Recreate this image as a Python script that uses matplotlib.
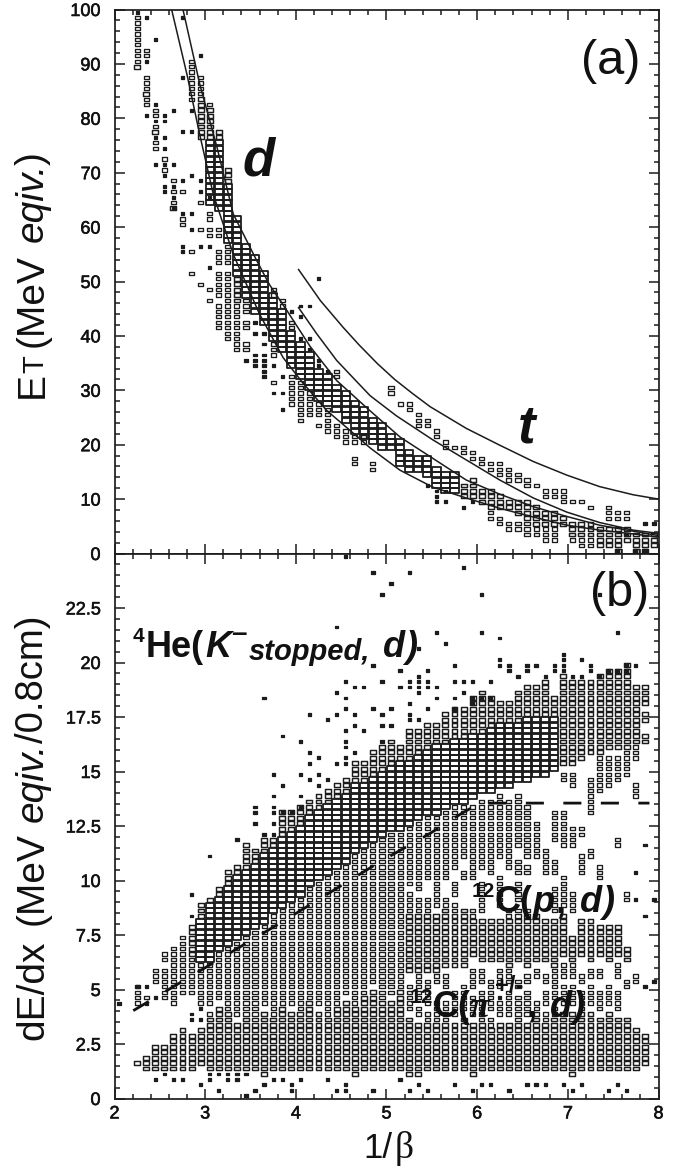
import numpy as np
from matplotlib import pyplot as plt
from matplotlib import patheffects
from matplotlib.collections import PatchCollection
from matplotlib.patches import Rectangle
from matplotlib.ticker import FixedLocator, FixedFormatter

# panel (a): runs of filled bins (column centre, lowest E bin, highest E bin)
a_big = [(3.05, 64, 75), (3.15, 63, 75), (3.25, 57, 67), (3.35, 51, 61), (3.45, 47, 56), (3.55, 44, 54),
         (3.65, 42, 51), (3.75, 39, 47), (3.85, 37, 44), (3.95, 34, 40), (4.05, 32, 38), (4.15, 30, 36),
         (4.25, 28, 33), (4.35, 27, 32), (4.45, 26, 30), (4.55, 24, 29), (4.65, 22, 27), (4.75, 21, 26),
         (4.85, 20, 24), (4.95, 19, 23), (5.05, 19, 21), (5.15, 16, 20), (5.25, 15, 18), (5.35, 15, 17),
         (5.45, 14, 17), (5.55, 12, 15), (5.65, 11, 14), (5.75, 11, 14)]
a_mid = [(2.25, 89, 89), (2.35, 84, 84), (2.45, 77, 77), (2.65, 63, 63), (2.95, 76, 83), (3.05, 76, 81),
         (3.15, 76, 77), (3.25, 68, 70), (3.35, 46, 50), (5.85, 10, 12), (5.95, 10, 13), (6.05, 9, 11),
         (6.15, 8, 11), (6.25, 8, 10), (6.35, 8, 9), (6.45, 7, 9), (6.55, 6, 9), (6.65, 5, 8), (6.75, 5, 7),
         (6.85, 5, 7), (6.95, 5, 6), (7.05, 3, 5), (7.15, 3, 5), (7.25, 3, 5), (7.35, 1, 4), (7.45, 1, 4),
         (7.55, 0, 4), (7.65, 2, 4), (7.75, 0, 3), (7.85, 0, 3), (7.95, 1, 3)]
a_small = [(2.25, 90, 98), (2.35, 91, 92), (2.35, 85, 87), (2.35, 82, 83), (2.45, 80, 81), (2.45, 78, 78),
           (2.45, 74, 75), (2.55, 72, 72), (2.55, 70, 70), (2.65, 68, 68), (2.65, 66, 66), (2.65, 64, 64),
           (2.75, 66, 66), (2.75, 60, 61), (2.85, 83, 90), (2.85, 55, 55), (2.85, 51, 51), (2.95, 84, 87),
           (2.95, 64, 64), (2.95, 59, 59), (2.95, 49, 49), (3.05, 82, 82), (3.05, 61, 62), (3.05, 58, 59),
           (3.05, 48, 48), (3.05, 46, 46), (3.15, 58, 59), (3.15, 53, 55), (3.15, 47, 51), (3.15, 41, 45),
           (3.25, 53, 56), (3.25, 39, 51), (3.35, 41, 45), (3.35, 37, 40), (3.45, 44, 46), (3.45, 41, 42),
           (3.45, 37, 38), (3.75, 47, 48), (3.75, 36, 38), (3.75, 31, 31), (3.85, 45, 46), (3.95, 41, 42),
           (3.95, 27, 32), (4.05, 24, 31), (4.15, 25, 29), (4.25, 25, 27), (4.25, 23, 23), (4.35, 22, 26),
           (4.45, 32, 33), (4.45, 21, 23), (4.55, 20, 22), (4.65, 20, 21), (4.65, 16, 17), (4.75, 20, 21),
           (4.85, 15, 16), (5.05, 29, 30), (5.15, 27, 27), (5.25, 26, 27), (5.35, 23, 25), (5.45, 23, 24),
           (5.55, 21, 22), (5.65, 19, 20), (5.75, 19, 19), (5.85, 18, 19), (5.95, 17, 18), (6.05, 16, 17),
           (6.15, 15, 16), (6.25, 14, 16), (6.35, 13, 15), (6.45, 13, 14), (6.55, 12, 13), (6.65, 12, 12),
           (6.75, 10, 11), (6.85, 10, 11), (6.95, 9, 11), (7.05, 9, 9), (7.15, 9, 9), (7.25, 8, 8),
           (7.45, 6, 8), (7.55, 6, 7), (7.65, 6, 7), (6.15, 6, 7), (6.25, 5, 6), (6.35, 4, 5), (6.45, 4, 5),
           (6.55, 3, 5), (6.65, 3, 4), (6.75, 2, 4), (6.85, 2, 4), (7.05, 2, 2), (7.15, 1, 2), (7.25, 1, 2)]
a_dot_x = [2.25, 2.35, 2.35, 2.35, 2.45, 2.45, 2.45, 2.45, 2.45, 2.55, 2.55, 2.55, 2.55, 2.55, 2.55, 2.55, 2.55,
           2.65, 2.65, 2.65, 2.65, 2.65, 2.75, 2.75, 2.75, 2.75, 2.75, 2.75, 2.75, 2.85, 2.85, 2.85, 2.85, 2.85,
           2.95, 2.95, 2.95, 2.95, 3.05, 3.05, 3.05, 3.45, 3.55, 3.55, 3.55, 3.55, 3.55, 3.65, 3.65, 3.65, 3.65,
           3.65, 3.65, 3.65, 3.75, 3.75, 3.85, 3.85, 3.85, 3.95, 4.05, 4.05, 4.05, 4.15, 4.15, 4.15, 4.25, 4.25,
           4.25, 4.35, 5.45, 5.55, 5.55, 5.55, 5.65, 5.65, 5.85, 5.95, 7.85, 7.95, 7.55, 7.75, 7.85, 7.65]
a_dot_y = [99, 98, 90, 80, 94, 82, 79, 76, 71, 80, 79, 76, 74, 71, 69, 67, 66,
           81, 71, 67, 65, 63, 98, 87, 77, 68, 62, 56, 55, 81, 77, 69, 62, 59,
           91, 68, 66, 56, 65, 56, 52, 35, 42, 40, 36, 35, 34, 40, 38, 36, 35,
           34, 33, 32, 34, 29, 32, 29, 26, 44, 45, 43, 39, 45, 39, 37, 50, 35,
           34, 33, 12, 11, 10, 9, 11, 9, 8, 9, 5, 5, 0, 0, 0, 3]

# curves of panel (a)
d_low_x = [2.63, 2.8, 2.94, 3.09, 3.31, 3.6, 3.86, 4.08, 4.34, 4.6, 4.82, 5.15, 5.51, 5.88, 6.25, 6.62, 6.99, 7.35, 7.72, 8.0]
d_low_y = [100, 88, 77, 66, 55, 44, 36, 31.3, 26.3, 22.6, 19.4, 15.3, 12.2, 10.2, 8.3, 6.7, 5.2, 4.3, 3.6, 3.0]
d_high_x = [2.755, 2.94, 3.13, 3.31, 3.57, 3.71, 3.9, 4.16, 4.45, 4.8, 5.15, 5.51, 5.88, 6.25, 6.62, 6.99, 7.35, 7.72, 8.0]
d_high_y = [100, 86.3, 74.7, 62.4, 53.8, 49.4, 44.7, 38, 31.8, 26.5, 21.4, 17.5, 13.5, 10.9, 8.6, 6.8, 5.2, 4.1, 3.3]
t_low_x = [4.03, 4.23, 4.45, 4.66, 4.82, 5.11, 5.51, 5.88, 6.25, 6.62, 6.99, 7.35, 7.72, 8.0]
t_low_y = [45.2, 40.4, 35.5, 31.8, 29, 25.3, 20.9, 17.2, 13.5, 10.2, 7.6, 5.7, 4.3, 3.7]
t_high_x = [4.03, 4.27, 4.52, 4.7, 4.9, 5.09, 5.28, 5.48, 5.88, 6.25, 6.62, 6.99, 7.35, 7.72, 8.0]
t_high_y = [52.2, 46.5, 41.6, 38.3, 34.9, 32.0, 29.5, 27.0, 23.0, 19.9, 16.9, 14.4, 12.3, 10.8, 10]

# panel (b): runs of filled bins (column centre, lowest bin edge, highest bin edge)
b_big = [(2.95, 6.25, 8.0), (3.05, 6.25, 8.75), (3.15, 6.75, 9.0), (3.25, 7.0, 9.5), (3.35, 7.25, 10.0),
         (3.45, 7.5, 10.25), (3.55, 7.75, 10.5), (3.65, 8.0, 11.0), (3.75, 8.5, 11.25), (3.85, 8.75, 11.75),
         (3.95, 9.0, 12.0), (4.05, 9.25, 12.25), (4.15, 9.75, 12.75), (4.25, 10.0, 13.0), (4.35, 10.25, 13.25),
         (4.45, 10.5, 13.5), (4.55, 10.75, 13.75), (4.65, 11.25, 14.25), (4.75, 11.5, 14.25), (4.85, 11.75, 14.5),
         (4.95, 12.0, 14.75), (5.05, 12.25, 15.0), (5.15, 12.25, 15.25), (5.25, 12.5, 15.25), (5.35, 12.75, 15.5),
         (5.45, 13.0, 15.75), (5.55, 13.0, 16.0), (5.65, 13.25, 16.0), (5.75, 13.5, 16.25), (5.85, 13.5, 16.25),
         (5.95, 13.75, 16.5), (6.05, 14.0, 16.5), (6.15, 14.0, 16.75), (6.25, 14.25, 17.0), (6.35, 14.25, 17.0),
         (6.45, 14.5, 17.0), (6.55, 14.5, 17.25), (6.65, 14.75, 17.25), (6.75, 14.75, 17.25), (6.85, 15.0, 17.25)]
b_top = [(2.85, 6.5, 7.75), (2.95, 8.25, 8.75), (3.05, 9.0, 9.0), (3.15, 9.25, 9.5), (3.25, 9.75, 10.25),
         (3.35, 10.25, 10.5), (3.45, 10.5, 11.5), (3.55, 10.75, 11.25), (3.65, 11.25, 11.75), (3.75, 11.5, 11.75),
         (3.85, 12.0, 13.0), (3.95, 12.25, 13.0), (4.05, 12.5, 13.25), (4.15, 13.0, 13.5), (4.25, 13.25, 13.75),
         (4.35, 13.5, 14.0), (4.45, 13.75, 14.25), (4.55, 14.0, 14.5), (4.65, 14.5, 15.25), (4.75, 14.5, 15.25),
         (4.85, 14.75, 15.75), (4.95, 15.0, 16.0), (5.05, 15.25, 16.25), (5.15, 15.5, 16.0), (5.25, 15.5, 16.75),
         (5.35, 15.75, 16.75), (5.45, 16.0, 17.0), (5.55, 16.25, 17.0), (5.65, 16.25, 17.5), (5.75, 16.5, 17.75),
         (5.85, 16.5, 17.75), (5.95, 16.75, 18.25), (6.05, 16.75, 18.5), (6.15, 17.0, 18.25), (6.25, 17.25, 18.0),
         (6.35, 17.25, 18.0), (6.45, 17.25, 18.5), (6.55, 17.5, 18.75), (6.65, 17.5, 18.75), (6.75, 17.5, 19.0),
         (6.85, 17.5, 18.25), (6.95, 15.25, 19.25), (7.05, 15.25, 19.0), (7.15, 15.5, 19.0), (7.25, 15.75, 19.0),
         (7.35, 15.75, 19.25), (7.45, 16.0, 19.5), (7.55, 16.0, 19.5), (7.65, 16.0, 19.75), (7.75, 16.25, 18.75),
         (7.85, 18.0, 18.75), (7.85, 17.25, 17.5), (7.85, 16.25, 16.5)]
b_lower = [(2.25, 4.25, 5.0), (2.35, 4.5, 4.5), (2.45, 5.25, 5.75), (2.55, 4.5, 5.75), (2.55, 6.25, 6.5),
           (2.65, 4.25, 6.75), (2.75, 4.75, 7.25), (2.85, 4.75, 6.25), (2.95, 4.25, 6.0), (3.05, 4.25, 6.0),
           (3.05, 3.75, 3.75), (3.15, 4.5, 6.5), (3.25, 4.0, 6.75), (3.35, 3.75, 7.0), (3.45, 3.75, 7.25),
           (3.55, 3.5, 7.5), (3.65, 4.25, 7.75), (3.75, 3.75, 8.25), (3.85, 4.25, 8.5), (3.95, 4.25, 8.75),
           (4.05, 4.0, 9.0), (4.15, 4.5, 9.5), (4.25, 4.25, 9.75), (4.35, 3.75, 10.0), (4.45, 4.25, 10.25),
           (4.55, 4.75, 10.5), (4.65, 4.25, 11.0), (4.75, 4.75, 11.25), (4.85, 5.25, 11.5), (4.95, 4.5, 11.75),
           (5.05, 4.75, 12.0), (5.15, 5.0, 12.0), (5.25, 9.75, 12.25), (5.25, 8.5, 9.25), (5.25, 4.0, 5.0),
           (5.35, 9.5, 12.5), (5.35, 8.5, 9.0), (5.35, 4.5, 5.0), (5.45, 10.0, 12.75), (5.45, 8.5, 9.0),
           (5.45, 4.25, 5.25), (5.55, 9.5, 12.75), (5.55, 8.75, 9.25), (5.55, 3.5, 4.25), (5.65, 10.0, 13.0),
           (5.65, 8.75, 9.0), (5.65, 5.0, 5.5), (5.65, 3.5, 4.25), (5.75, 10.5, 13.25), (5.75, 9.25, 9.75),
           (5.75, 8.5, 8.75), (5.85, 11.0, 13.25), (5.85, 10.0, 10.25), (5.85, 4.0, 5.0), (5.95, 10.0, 13.25),
           (5.95, 8.25, 8.5), (5.95, 5.0, 5.25), (6.05, 10.5, 13.5), (6.05, 9.25, 9.75), (6.05, 5.25, 5.75),
           (6.15, 10.25, 13.5), (6.15, 4.0, 5.25), (6.15, 3.25, 3.5), (6.25, 11.0, 13.75), (6.35, 10.5, 13.5),
           (6.35, 8.25, 8.5), (6.35, 5.25, 5.75), (6.45, 11.5, 13.75), (6.45, 10.25, 10.75), (6.45, 8.25, 8.5),
           (6.55, 11.0, 13.25), (6.55, 10.25, 10.5), (6.55, 8.25, 8.5), (6.55, 5.25, 5.5), (6.55, 3.75, 4.75),
           (6.65, 11.0, 12.5), (6.75, 10.25, 11.25), (6.75, 5.25, 5.5), (6.75, 4.25, 4.75), (6.85, 11.75, 13.0),
           (6.85, 10.25, 10.75), (6.85, 4.5, 5.75), (6.95, 11.5, 13.0), (6.95, 14.5, 14.75), (7.05, 11.5, 12.25),
           (7.05, 14.25, 14.75), (7.15, 12.0, 12.25), (7.15, 10.25, 11.0), (7.15, 5.25, 5.5), (7.25, 13.0, 14.5),
           (7.25, 11.0, 11.25), (7.35, 10.0, 10.5), (7.35, 5.5, 5.75), (7.35, 14.0, 15.5), (7.45, 14.25, 15.5),
           (7.55, 14.5, 15.5), (7.55, 11.5, 11.75), (7.65, 14.75, 15.75), (7.65, 9.0, 9.25), (7.65, 5.0, 5.25),
           (7.75, 15.5, 16.0), (7.75, 13.75, 14.25), (7.75, 5.25, 5.5),
           (5.35, 3.75, 4.0), (5.45, 3.5, 3.75), (5.75, 3.75, 4.75), (5.95, 3.75, 4.5), (6.05, 3.5, 4.75),
           (6.25, 3.75, 4.25), (6.35, 3.75, 4.75), (6.45, 3.5, 4.5), (6.65, 3.75, 4.25), (6.75, 3.5, 3.75),
           (6.85, 3.75, 4.0), (6.95, 4.25, 5.0), (7.05, 4.25, 5.0), (7.15, 4.0, 4.75), (7.25, 4.25, 5.0),
           (7.35, 4.0, 4.75), (7.45, 4.25, 5.0), (7.55, 4.0, 4.75), (5.35, 5.25, 5.5), (5.55, 5.25, 5.5),
           (5.95, 5.5, 5.75), (6.25, 5.0, 5.75), (6.45, 5.0, 5.25), (6.65, 5.5, 5.75), (6.95, 5.5, 6.0),
           (7.05, 5.5, 6.0), (7.25, 5.5, 5.75), (7.55, 5.5, 6.0), (6.05, 8.5, 9.0), (6.25, 8.75, 10.0),
           (6.45, 9.0, 9.75), (6.85, 8.5, 9.5), (6.95, 8.75, 10.0), (7.05, 8.5, 9.25)]
b_shelf = [(5.25, 5.75, 8.25), (5.35, 5.75, 8.25), (5.45, 5.75, 8.25), (5.55, 5.75, 8.25), (5.65, 6.0, 8.5),
           (5.75, 6.0, 8.25), (5.85, 6.0, 8.5), (5.95, 6.5, 8.0), (6.05, 6.25, 8.0), (6.15, 6.25, 8.0),
           (6.25, 6.25, 8.0), (6.35, 6.0, 8.0), (6.45, 6.25, 8.0), (6.55, 6.0, 8.0), (6.65, 6.25, 8.25),
           (6.75, 6.25, 8.0), (6.85, 6.0, 8.0), (6.95, 6.5, 8.25), (7.05, 6.25, 7.25), (7.15, 6.5, 8.0),
           (7.25, 6.25, 8.0), (7.35, 6.5, 7.75), (7.45, 6.25, 7.75), (7.55, 6.5, 7.75), (7.65, 6.25, 6.75)]
b_floor = [(2.25, 1.5, 1.5), (2.35, 1.25, 1.75), (2.45, 1.25, 2.25), (2.55, 1.25, 2.25), (2.65, 1.25, 2.75),
           (2.75, 1.25, 3.0), (2.85, 1.25, 2.75), (2.95, 1.5, 2.75), (2.95, 3.0, 3.0), (3.05, 1.25, 3.5),
           (3.15, 1.25, 4.0), (3.25, 1.25, 3.75), (3.35, 1.25, 3.25), (3.45, 1.25, 3.5), (3.55, 1.25, 3.25),
           (3.65, 1.0, 3.75), (3.75, 1.25, 3.5), (3.85, 1.25, 4.0), (3.95, 1.25, 3.75), (4.05, 1.25, 3.75),
           (4.15, 1.25, 4.25), (4.25, 1.25, 3.75), (4.35, 1.25, 3.5), (4.45, 1.25, 4.0), (4.55, 1.25, 4.25),
           (4.65, 1.0, 4.0), (4.75, 1.25, 4.5), (4.85, 1.25, 4.75), (4.95, 1.25, 4.25), (5.05, 1.25, 4.25),
           (5.15, 1.25, 4.75), (5.25, 1.0, 3.5), (5.35, 1.0, 3.25), (5.45, 1.25, 3.25), (5.55, 1.25, 3.25),
           (5.65, 1.25, 3.25), (5.75, 1.25, 3.25), (5.85, 1.25, 3.5), (5.95, 1.0, 3.25), (6.05, 1.25, 3.25),
           (6.15, 1.25, 3.0), (6.25, 1.25, 3.25), (6.35, 1.25, 3.25), (6.45, 1.25, 3.25), (6.55, 1.25, 3.25),
           (6.65, 1.25, 3.5), (6.75, 1.25, 3.25), (6.85, 1.25, 3.5), (6.95, 1.25, 3.75), (7.05, 1.0, 3.75),
           (7.15, 1.25, 3.75), (7.25, 1.25, 3.75), (7.35, 1.25, 3.5), (7.45, 1.25, 3.75), (7.55, 1.25, 3.5),
           (7.65, 1.25, 3.5), (7.75, 1.25, 3.0), (7.85, 1.5, 2.75)]
b_dot_x = [2.05, 2.25, 2.35, 2.35, 2.45, 2.45, 2.55, 2.65, 2.75, 2.85, 2.85, 2.85, 2.85, 2.95, 2.95, 2.95, 3.05, 3.05, 3.05,
           3.15, 3.15, 3.25, 3.25, 3.35, 3.35, 3.35, 3.45, 3.45, 3.55, 3.55, 3.55, 3.55, 3.65, 3.65, 3.65, 3.75, 3.75, 3.75,
           3.75, 3.75, 3.75, 3.75, 3.85, 3.85, 3.85, 3.85, 3.95, 3.95, 3.95, 4.05, 4.05, 4.05, 4.05, 4.05, 4.15, 4.15, 4.15,
           4.15, 4.25, 4.25, 4.25, 4.35, 4.35, 4.35, 4.45, 4.45, 4.45, 4.45, 4.45, 4.55, 4.55, 4.55, 4.55, 4.55, 4.55, 4.55,
           4.55, 4.55, 4.55, 4.55, 4.65, 4.65, 4.65, 4.65, 4.75, 4.75, 4.85, 4.85, 4.85, 4.85, 4.95, 4.95, 4.95, 4.95, 4.95,
           5.05, 5.05, 5.05, 5.15, 5.15, 5.15, 5.25, 5.25, 5.25, 5.25, 5.25, 5.25, 5.35, 5.35, 5.35, 5.35, 5.35, 5.35, 5.35,
           5.45, 5.45, 5.45, 5.45, 5.45, 5.55, 5.55, 5.55, 5.65, 5.75, 5.75, 5.75, 5.75, 5.85, 5.85, 5.85, 5.95, 5.95, 5.95,
           6.05, 6.05, 6.05, 6.15, 6.15, 6.25, 6.25, 6.25, 6.35, 6.35, 6.45, 6.55, 6.55, 6.65, 6.75, 6.85, 6.85, 6.95, 6.95,
           6.95, 6.95, 7.05, 7.15, 7.15, 7.25, 7.25, 7.35, 7.35, 7.45, 7.55, 7.55, 7.65, 7.65, 7.75, 7.75, 7.75, 7.85, 7.85,
           7.85, 7.95, 7.95, 5.25, 5.75, 5.95, 6.05, 6.15, 6.35, 6.55, 6.65, 6.75, 6.95, 7.05, 7.15, 7.45, 7.55, 7.65, 6.25]
b_dot_y = [4.25, 5.0, 5.0, 4.25, 4.5, 0.75, 1.0, 0.75, 0.75, 9.25, 8.25, 3.75, 3.5, 3.5, 4.0, 0.5, 11.0, 1.0, 0.75,
           1.0, 0.25, 1.0, 0.75, 11.75, 1.0, 0.75, 1.0, 0.0, 13.25, 13.0, 12.5, 0.25, 18.25, 12.0, 0.5, 14.75, 13.75, 13.25,
           13.0, 12.5, 12.0, 0.75, 16.5, 14.25, 13.0, 0.75, 13.0, 0.5, 0.25, 16.25, 14.75, 13.75, 13.25, 0.75, 17.5, 15.75, 15.25,
           14.5, 15.5, 14.75, 14.25, 17.25, 14.5, 0.75, 21.5, 18.5, 17.5, 15.25, 0.25, 24.75, 19.0, 18.25, 17.75, 16.75, 16.25,
           16.0, 15.5, 15.25, 0.5, 0.25, 18.75, 17.5, 17.0, 15.75, 18.75, 16.75, 24.0, 19.75, 17.75, 0.25, 23.0, 19.0, 17.5, 17.0, 16.25,
           23.5, 17.75, 17.0, 19.5, 18.75, 0.75, 24.0, 19.0, 18.75, 18.0, 17.5, 17.25, 20.5, 19.25, 19.0, 18.75, 18.5, 17.25, 0.5,
           19.5, 19.0, 18.75, 17.75, 0.25, 21.25, 18.75, 18.25, 20.75, 19.75, 19.0, 18.25, 17.75, 24.25, 19.0, 18.5, 19.0, 18.25, 18.0,
           23.0, 21.25, 18.25, 19.0, 18.25, 21.0, 20.0, 19.75, 19.75, 19.5, 19.25, 19.75, 19.5, 19.75, 19.25, 19.75, 19.5, 20.25, 20.0,
           19.75, 19.5, 19.25, 20.0, 19.25, 19.75, 19.5, 23.0, 19.25, 19.5, 21.25, 19.5, 19.75, 19.5, 19.75, 10.25, 9.0, 11.5, 8.25,
           5.0, 9.0, 5.25, 0.25, 0.5, 0.25, 0.5, 0.5, 0.25, 0.5, 0.5, 0.5, 0.5, 0.25, 0.5, 0.25, 0.5, 0.25, 4.5]

# lines of panel (b)
b_line_x = [2.207, 2.94, 3.84, 4.93, 5.48, 5.83, 6.03, 7.9]
b_line_y = [4.03, 5.85, 8.08, 10.86, 12.16, 13.08, 13.55, 13.55]

x_ticks = [2, 3, 4, 5, 6, 7, 8]
a_ticks = [0, 10, 20, 30, 40, 50, 60, 70, 80, 90, 100]
b_ticks = [0, 2.5, 5, 7.5, 10, 12.5, 15, 17.5, 20, 22.5, 25]
b_tick_labels = ['0', '2.5', '5', '7.5', '10', '12.5', '15', '17.5', '20', '22.5', '']

W, H = 687, 1169
INK = '#1c1c1c'
SANS = 'Liberation Sans'
# fraction of the bin covered by a box: (width, height), and edge width
BOX = {'dot': (0.36, 0.52, 0.9), 'small': (0.56, 0.6, 0.95), 'mid': (0.66, 0.72, 1.05), 'big': (0.92, 0.92, 1.3)}


def expand(runs, step):
    xs, ys = [], []
    for col, lo, hi in runs:
        for val in np.arange(lo, hi + step / 2, step):
            xs.append(col)
            ys.append(val)
    return xs, ys


def draw_boxes(ax, xs, ys, level, row):
    wf, hf, lw = BOX[level]
    rects = [Rectangle((x - 0.05 * wf, y + row * (1 - hf) / 2), 0.1 * wf, row * hf) for x, y in zip(xs, ys)]
    ax.add_collection(PatchCollection(rects, facecolor=INK if level == 'dot' else 'none', edgecolor=INK,
                                      linewidth=lw, zorder=2))


def set_axis(ax, y_ticks, y_limit, minor, labels):
    ax.set_xlim(2, 8)
    ax.set_ylim(0, y_limit)
    ax.xaxis.set_major_locator(FixedLocator(x_ticks))
    ax.xaxis.set_minor_locator(FixedLocator(np.arange(2, 8.01, 0.2)))
    ax.yaxis.set_major_locator(FixedLocator(y_ticks))
    ax.yaxis.set_minor_locator(FixedLocator(minor))
    ax.yaxis.set_major_formatter(FixedFormatter(labels))
    ax.tick_params(which='both', direction='in', top=True, right=True, color=INK)
    ax.tick_params(which='major', length=7.2, width=1.1, labelsize=13, labelcolor='#111111')
    ax.tick_params(which='minor', length=3.6, width=1.1)
    ax.tick_params(axis='x', which='major', pad=5)
    ax.tick_params(axis='y', which='major', pad=10)
    for spine in ax.spines.values():
        spine.set_linewidth(1.25)
        spine.set_color(INK)
    for label in ax.get_xticklabels() + ax.get_yticklabels():
        label.set_path_effects([patheffects.withStroke(linewidth=0.4, foreground='#111111')])


def put(fig, x, y, text, size, weight='normal', style='normal', family=SANS, rotation=0):
    fig.text(x / W, 1 - y / H, text, fontsize=size, fontweight=weight, fontstyle=style, family=family,
             color='#111111', ha='left', va='baseline', rotation=rotation, rotation_mode='anchor', zorder=5)


def add_labels(fig):
    # axis titles, one piece per font
    put(fig, 43, 398, 'E', 28, rotation=90)
    put(fig, 43, 373, 'T', 21, rotation=90)
    put(fig, 43, 347, '(MeV', 28, rotation=90)
    put(fig, 43, 242, 'eqiv.', 28, style='italic', rotation=90)
    put(fig, 43, 165, ')', 28, rotation=90)
    put(fig, 43, 1040, 'dE/dx', 28, rotation=90)
    put(fig, 43, 925, '(MeV', 28, rotation=90)
    put(fig, 43, 822, 'eqiv.', 28, style='italic', rotation=90)
    put(fig, 43, 743, '/0.8cm)', 27.5, rotation=90)
    put(fig, 363, 1158, '1/', 25)
    put(fig, 395, 1158, 'β', 27, family='Liberation Serif')
    # panel tags
    put(fig, 581, 74, '(a)', 35)
    put(fig, 590, 606, '(b)', 35)
    put(fig, 243, 175, 'd', 38, weight='bold', style='italic')
    put(fig, 518, 443, 't', 38, weight='bold', style='italic')
    # reaction labels
    put(fig, 133, 642, '4', 15, weight='bold')
    put(fig, 146, 657, 'He(', 26, weight='bold')
    put(fig, 205, 657, 'K', 26, weight='bold', style='italic')
    put(fig, 231, 641, '–', 20, weight='bold')
    put(fig, 249, 660, 'stopped,', 21, weight='bold', style='italic')
    put(fig, 383, 657, 'd', 26, weight='bold', style='italic')
    put(fig, 405, 657, ')', 26, weight='bold', style='italic')
    put(fig, 472, 897, '12', 15, weight='bold')
    put(fig, 495, 912, 'C(', 26, weight='bold')
    put(fig, 533, 912, 'p', 26, weight='bold', style='italic')
    put(fig, 556, 912, ',', 26, weight='bold')
    put(fig, 580, 912, 'd', 26, weight='bold', style='italic')
    put(fig, 602, 912, ')', 26, weight='bold', style='italic')
    put(fig, 410, 1003, '12', 15, weight='bold')
    put(fig, 433, 1017, 'C(', 26, weight='bold')
    put(fig, 470, 1017, 'π', 26, weight='bold', style='italic', family='Liberation Serif')
    put(fig, 495, 993, '+/-', 17, weight='bold')
    put(fig, 527, 1017, ',', 26, weight='bold')
    put(fig, 550, 1017, 'd', 26, weight='bold', style='italic')
    put(fig, 572, 1017, ')', 26, weight='bold', style='italic')


def main():
    plt.rcParams['font.family'] = SANS
    fig = plt.figure(figsize=(W / 100, H / 100), dpi=100)
    ax_a = fig.add_axes([114.5 / W, 1 - 553.5 / H, 544 / W, 544 / H])
    ax_b = fig.add_axes([114.5 / W, 1 - 1098.5 / H, 544 / W, 545 / H])

    set_axis(ax_a, a_ticks, 100, np.arange(0, 100.1, 2), [str(t) for t in a_ticks])
    set_axis(ax_b, b_ticks, 25, np.arange(0, 25.01, 0.5), b_tick_labels)
    ax_a.tick_params(labelbottom=False)

    for runs, level in [(a_big, 'big'), (a_mid, 'mid'), (a_small, 'small')]:
        xs, ys = expand(runs, 1)
        draw_boxes(ax_a, xs, ys, level, 1)
    draw_boxes(ax_a, a_dot_x, a_dot_y, 'dot', 1)

    for cx, cy in [(d_low_x, d_low_y), (d_high_x, d_high_y), (t_low_x, t_low_y), (t_high_x, t_high_y)]:
        ax_a.plot(cx, cy, color=INK, lw=1.1, zorder=3)

    for runs, level in [(b_big, 'big'), (b_top, 'mid'), (b_shelf, 'mid'), (b_floor, 'mid'), (b_lower, 'small')]:
        xs, ys = expand(runs, 0.25)
        draw_boxes(ax_b, xs, ys, level, 0.25)
    draw_boxes(ax_b, b_dot_x, b_dot_y, 'dot', 0.25)
    ax_b.plot(b_line_x, b_line_y, color='#111111', lw=2.0, linestyle=(0, (6.5, 7)), dash_capstyle='butt', zorder=4)

    add_labels(fig)
    fig.savefig('out.png', dpi=100)


if __name__ == '__main__':
    main()
